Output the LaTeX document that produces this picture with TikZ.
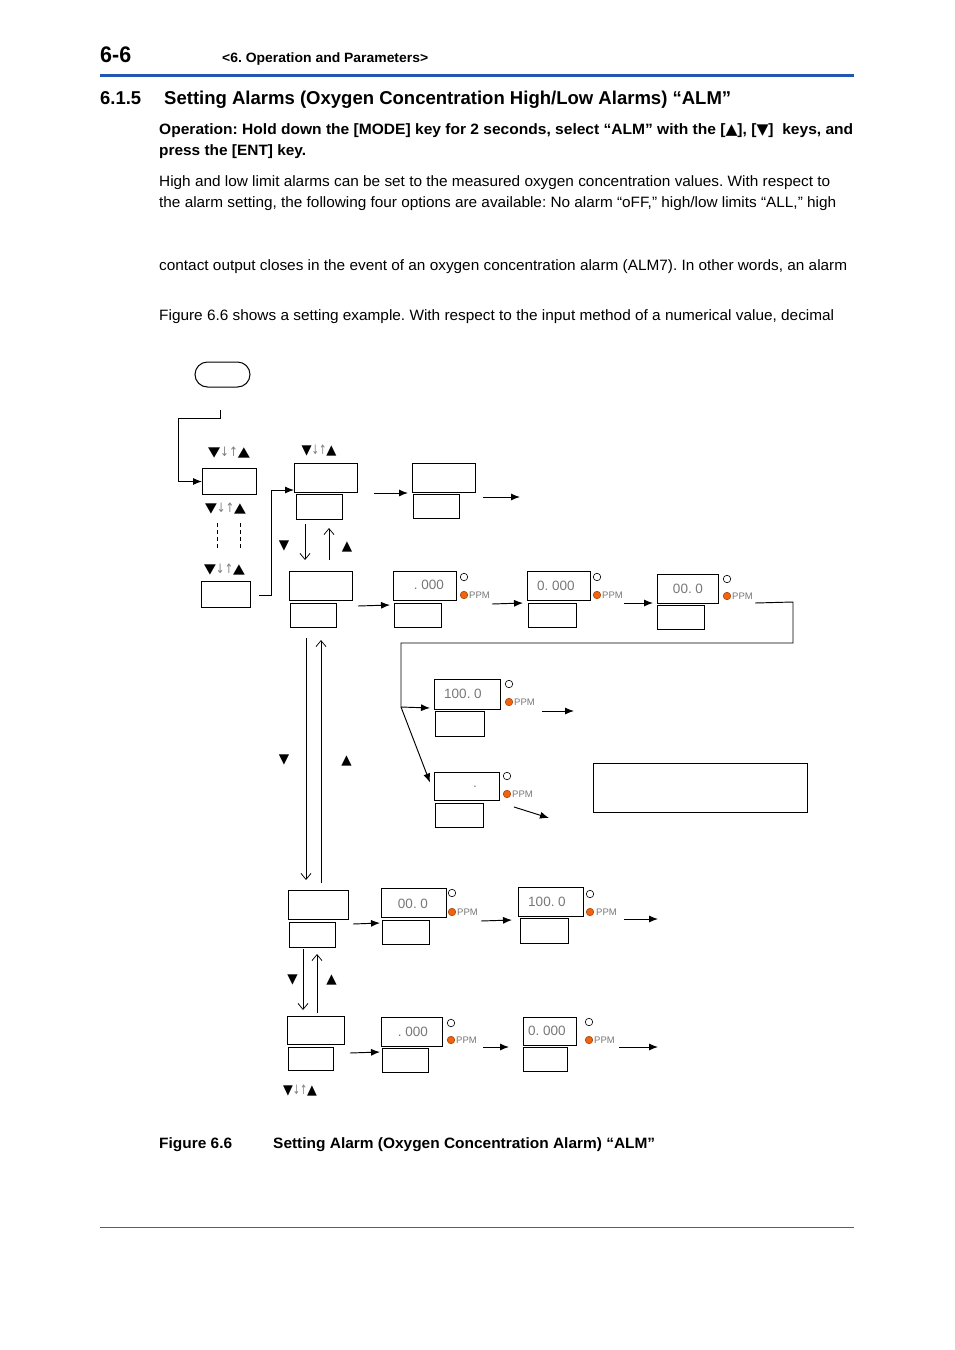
\documentclass[tikz,border=0pt]{standalone}
\usepackage{fontspec}
\setmainfont{Liberation Sans}
\newfontfamily\symfont{DejaVu Sans}
\usetikzlibrary{arrows.meta,calc}
\frenchspacing
\definecolor{hdrblue}{RGB}{33,87,176}
\definecolor{rulecol}{RGB}{70,95,150}
\definecolor{ledorange}{RGB}{240,100,15}
\definecolor{seggray}{RGB}{120,120,120}
\newcommand\fitw[2]{\resizebox{#1}{\height}{#2}}
\newcommand\keyud{{\symfont\fontsize{13.5}{13.5}\selectfont ▼{\fontsize{13}{13}\selectfont\textcolor{gray}{\scalebox{0.7}[1]{↓}\scalebox{0.7}[1]{↑}}}▲}}
\begin{document}
\begin{tikzpicture}[x=1pt,y=-1pt,
  txt/.style={anchor=base west,inner sep=0pt,font=\fontsize{15}{18}\selectfont},
  btxt/.style={txt,font=\fontsize{15}{18}\selectfont\bfseries},
  bx/.style={draw,line width=1pt,inner sep=0pt,anchor=north west},
  arr/.style={line width=0.95pt,-{Latex[length=9pt,width=7pt]}},
  barb/.style={line width=0.75pt,-{Straight Barb[length=6pt,width=10pt]}},
  ln/.style={line width=0.95pt},
  seg/.style={inner sep=0pt,text=seggray,font=\fontsize{13.5}{13.5}\selectfont},
  ppm/.style={anchor=west,inner sep=0pt,text=seggray,font=\fontsize{9.5}{9.5}\selectfont},
  lamp/.style={circle,draw,line width=0.6pt,minimum size=7.5pt,inner sep=0pt},
  lampon/.style={lamp,fill=ledorange,draw=ledorange!70!black},
  keylab/.style={inner sep=0pt},
  tri/.style={inner sep=0pt,font=\symfont\fontsize{13.5}{13.5}\selectfont}
]
\fill[white] (0,0) rectangle (954,1350);
\useasboundingbox (0,0) rectangle (954,1350);

% ---------- header ----------
\node[btxt,font=\fontsize{22.5}{24}\selectfont\bfseries] (pg) at (100,62.7) {\fitw{31pt}{6-6}};
\node[btxt,font=\fontsize{13.5}{16}\selectfont\bfseries] (chap) at (222,62.3) {\fitw{206pt}{<6. Operation and Parameters>}};
\draw[hdrblue,line width=3pt] (100,75.5) -- (854,75.5);

\node[btxt,font=\fontsize{18.6}{22}\selectfont\bfseries] (secno) at (100,104) {\fitw{41pt}{6.1.5}};
\node[btxt,font=\fontsize{18.6}{22}\selectfont\bfseries] (sectitle) at (164,104) {\fitw{567pt}{Setting Alarms (Oxygen Concentration High/Low Alarms) “ALM”}};

\node[btxt] (op1) at (159,134.3) {\fitw{694pt}{Operation: Hold down the [MODE] key for 2 seconds, select “ALM” with the [{\symfont ▲}], [{\symfont ▼}]\ \ keys, and}};
\node[btxt] (op2) at (159,155.3) {\fitw{147pt}{press the [ENT] key.}};

\node[txt] (b1) at (159,186.7) {\fitw{671pt}{High and low limit alarms can be set to the measured oxygen concentration values. With respect to}};
\node[txt] (b2) at (159,207.7) {\fitw{677pt}{the alarm setting, the following four options are available: No alarm “oFF,” high/low limits “ALL,” high}};
\node[txt] (b3) at (159,270.7) {\fitw{688pt}{contact output closes in the event of an oxygen concentration alarm (ALM7). In other words, an alarm}};
\node[txt] (b4) at (159,320.7) {\fitw{675pt}{Figure 6.6 shows a setting example. With respect to the input method of a numerical value, decimal}};

% ---------- diagram: boxes ----------
\node[draw,line width=1pt,rounded corners=12.5pt,minimum width=55pt,minimum height=25pt,inner sep=0pt] (mode) at (222.5,374.5) {};

\node[bx,minimum width=54pt,minimum height=26pt] (A1) at (202,468) {};
\node[bx,minimum width=49pt,minimum height=26pt] (A2) at (201,581) {};

\node[bx,minimum width=63pt,minimum height=29pt] (B1u) at (294,463) {};
\node[bx,minimum width=46pt,minimum height=25pt] (B1l) at (296,494) {};
\node[bx,minimum width=63pt,minimum height=29pt] (C1u) at (412,463) {};
\node[bx,minimum width=46pt,minimum height=24pt] (C1l) at (413,494) {};

\node[bx,minimum width=63pt,minimum height=29pt] (B2u) at (289,571) {};
\node[bx,minimum width=46pt,minimum height=24pt] (B2l) at (290,603) {};
\node[bx,minimum width=63pt,minimum height=29pt] (D1u) at (393,571) {};
\node[bx,minimum width=47pt,minimum height=24pt] (D1l) at (394,603) {};
\node[bx,minimum width=63pt,minimum height=29pt] (E1u) at (527,571) {};
\node[bx,minimum width=48pt,minimum height=24pt] (E1l) at (528,603) {};
\node[bx,minimum width=61pt,minimum height=29pt] (F1u) at (657,574) {};
\node[bx,minimum width=47pt,minimum height=24pt] (F1l) at (657,605) {};

\node[bx,minimum width=66pt,minimum height=30pt] (G1u) at (434,679) {};
\node[bx,minimum width=49pt,minimum height=25pt] (G1l) at (435,711) {};
\node[bx,minimum width=65pt,minimum height=28pt] (G2u) at (434,772) {};
\node[bx,minimum width=48pt,minimum height=24pt] (G2l) at (435,803) {};
\node[bx,minimum width=214pt,minimum height=49pt] (N) at (593,763) {};

\node[bx,minimum width=60pt,minimum height=29pt] (H1u) at (288,890) {};
\node[bx,minimum width=46pt,minimum height=25pt] (H1l) at (289,922) {};
\node[bx,minimum width=65pt,minimum height=29pt] (I1u) at (381,888) {};
\node[bx,minimum width=47pt,minimum height=24pt] (I1l) at (382,920) {};
\node[bx,minimum width=65pt,minimum height=29pt] (J1u) at (518,887) {};
\node[bx,minimum width=48pt,minimum height=25pt] (J1l) at (520,918) {};

\node[bx,minimum width=57pt,minimum height=28pt] (H2u) at (287,1016) {};
\node[bx,minimum width=45pt,minimum height=23pt] (H2l) at (288,1047) {};
\node[bx,minimum width=61pt,minimum height=29pt] (K1u) at (381,1017) {};
\node[bx,minimum width=46pt,minimum height=24pt] (K1l) at (382,1048) {};
\node[bx,minimum width=53pt,minimum height=28pt] (L1u) at (523,1017) {};
\node[bx,minimum width=44pt,minimum height=24pt] (L1l) at (523,1047) {};

% ---------- display readings ----------
\node[seg] (tD) at (429,585) {. 000};
\node[seg] (tE) at (556,586) {0. 000};
\node[seg] (tF) at (688,589) {00. 0};
\node[seg] (tG1) at (463,694) {100. 0};
\node[seg] (tG2) at (475,787) {.};
\node[seg] (tI) at (413,904) {00. 0};
\node[seg] (tJ) at (547,902) {100. 0};
\node[seg] (tK) at (413,1032) {. 000};
\node[seg] (tL) at (547,1031) {0. 000};

% ---------- lamps ----------
\node[lamp] (oD) at (464,577) {};   \node[lampon] (pD) at (464,595) {};   \node[ppm] (mD) at (469,595) {PPM};
\node[lamp] (oE) at (597,577) {};   \node[lampon] (pE) at (597,595) {};   \node[ppm] (mE) at (602,595) {PPM};
\node[lamp] (oF) at (727,579) {};   \node[lampon] (pF) at (727,596) {};   \node[ppm] (mF) at (732,596) {PPM};
\node[lamp] (oG1) at (509,684) {};  \node[lampon] (pG1) at (509,702) {};  \node[ppm] (mG1) at (514,702) {PPM};
\node[lamp] (oG2) at (507,776) {};  \node[lampon] (pG2) at (507,794) {};  \node[ppm] (mG2) at (512,794) {PPM};
\node[lamp] (oI) at (452,893) {};   \node[lampon] (pI) at (452,912) {};   \node[ppm] (mI) at (457,912) {PPM};
\node[lamp] (oJ) at (590,894) {};   \node[lampon] (pJ) at (590,912) {};   \node[ppm] (mJ) at (596,912) {PPM};
\node[lamp] (oK) at (451,1023) {};  \node[lampon] (pK) at (451,1040) {};  \node[ppm] (mK) at (456,1040) {PPM};
\node[lamp] (oL) at (589,1022) {};  \node[lampon] (pL) at (589,1040) {};  \node[ppm] (mL) at (594,1040) {PPM};

% ---------- key labels ----------
\node[keylab] (k1) at (229,453) {\fitw{42pt}{\keyud}};
\node[keylab] (k2) at (225.5,509) {\fitw{41pt}{\keyud}};
\node[keylab] (k3) at (224.5,570) {\fitw{41pt}{\keyud}};
\node[keylab] (k4) at (319,451) {\fitw{35pt}{\keyud}};
\node[keylab] (k5) at (300,1091) {\fitw{34pt}{\keyud}};

\node[tri] (s1) at (284,546) {▼};
\node[tri] (s2) at (347,547) {▲};
\node[tri] (s3) at (284,760) {▼};
\node[tri] (s4) at (346.5,761) {▲};
\node[tri] (s5) at (292.5,980) {▼};
\node[tri] (s6) at (331.5,980) {▲};

% ---------- connectors ----------
\coordinate (st) at (220,410);
\draw[arr] (st) -- ++(0,8) -- ++(-42,0) |- (A1.west);
\draw[line width=0.7pt,dash pattern=on 4pt off 3pt] ($(A1.south west)+(15,28)$) -- ($(A2.north west)+(16,-31)$);
\draw[line width=0.7pt,dash pattern=on 4pt off 3pt] ($(A1.south west)+(38,28)$) -- ($(A2.north west)+(39,-31)$);
\draw[arr] ($(A2.east)+(8,1)$) -| ($(B1u.south west)+(-23,-3)$) -- ($(B1u.south west)+(0,-3)$);

\draw[arr] ($(B1u.south east)+(16,0)$) -- ($(C1u.south west)+(-4,0)$);
\coordinate (c1out) at ($(C1u.south east)+(44,4)$);
\draw[arr] ($(C1u.south east)+(7,4)$) -- (c1out);

\draw[barb] ($(B1l.south west)+(9,4)$) -- ($(B2u.north west)+(16,-11)$);
\draw[barb] ($(B2u.north west)+(40,-11)$) -- ($(B1l.south west)+(33,8)$);

\draw[arr] ($(B2u.south east)+(5,5)$) -- ($(D1l.north west)+(-4,2)$);
\draw[arr] ($(D1u.south east)+(35,3)$) -- ($(E1l.north west)+(-5,0)$);
\draw[arr] ($(E1u.south east)+(33,2)$) -- ($(F1u.south west)+(-4,-1)$);

\coordinate (split) at (401,707);
\draw[ln] ($(F1u.south east)+(36,-1)$) -- (793,602) -- (793,643) -- (401,643) -- (split);
\draw[arr] (split) -- ($(G1u.south west)+(-4,-2)$);
\draw[arr] (split) -- ($(G2u.west)+(-4,-4)$);
\coordinate (g1out) at ($(G1u.south east)+(73,1)$);
\draw[arr] ($(G1u.south east)+(41,1)$) -- (g1out);
\coordinate (g2out) at ($(G2u.south east)+(49,17)$);
\draw[arr] ($(G2u.south east)+(14,6)$) -- (g2out);

\draw[barb] ($(B2l.south west)+(16,10)$) -- ($(H1u.north west)+(18,-10)$);
\draw[barb] ($(H1u.north west)+(33,-7)$) -- ($(B2l.south west)+(31,12)$);

\draw[arr] ($(H1u.south east)+(4,4)$) -- ($(I1l.north west)+(-2,3)$);
\draw[arr] ($(I1u.south east)+(34,3)$) -- ($(J1l.north west)+(-8,2)$);
\coordinate (j1out) at ($(J1u.south east)+(74,2)$);
\draw[arr] ($(J1u.south east)+(40,2)$) -- (j1out);

\draw[barb] ($(H1l.south west)+(14,1)$) -- ($(H2u.north west)+(16,-6)$);
\draw[barb] ($(H2u.north west)+(30,-3)$) -- ($(H1l.south west)+(28,6)$);

\draw[arr] ($(H2u.south east)+(5,8)$) -- ($(K1l.north west)+(-2,4)$);
\draw[arr] ($(K1u.south east)+(40,0)$) -- ($(L1u.south west)+(-14,1)$);
\coordinate (l1out) at ($(L1u.south east)+(81,1)$);
\draw[arr] ($(L1u.south east)+(42,1)$) -- (l1out);

% ---------- caption & footer rule ----------
\node[btxt] (capno) at (159,1148) {\fitw{73pt}{Figure 6.6}};
\node[btxt] (captxt) at (273,1148) {\fitw{382pt}{Setting Alarm (Oxygen Concentration Alarm) “ALM”}};
\draw[rulecol,line width=1pt] (100,1227.5) -- (854,1227.5);
\end{tikzpicture}
\end{document}
